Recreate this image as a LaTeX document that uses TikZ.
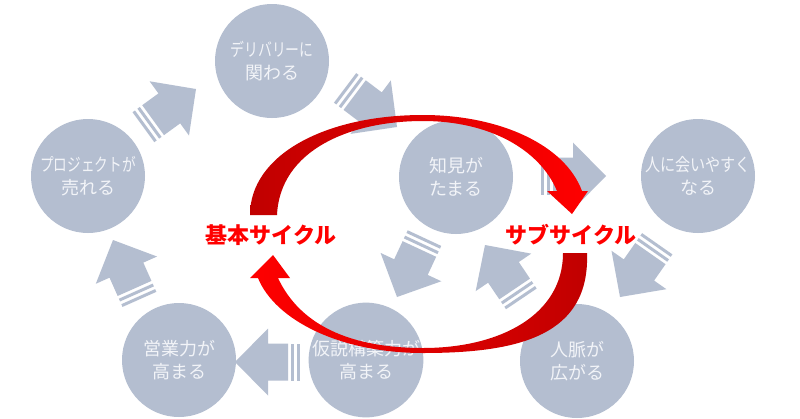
\documentclass[tikz,border=0pt]{standalone}
\usepackage{fontspec}
\usepackage{graphicx}
\newfontfamily\jp{Noto Sans CJK JP}
\definecolor{circ}{RGB}{180,190,208}
\definecolor{ctext}{RGB}{242,244,248}
\definecolor{dred}{RGB}{192,0,0}
\definecolor{bred}{RGB}{255,0,0}
\tikzset{
  bubble/.style={circle, fill=circ, minimum size=114pt, inner sep=0pt, text=ctext,
    align=center, font=\jp\fontsize{18}{23}\selectfont},
  cyclelabel/.style={text=bred, font=\jp\bfseries\fontsize{22}{26}\selectfont, inner sep=0pt},
  blockarrow/.style={fill=circ},
  upperarc/.style={left color=dred, right color=bred},
  lowerarc/.style={left color=bred, right color=dred},
}
\newcommand{\sarrow}[3]{%
  \begin{scope}[shift={(#1,#2)}, rotate=#3]
    \fill[blockarrow] (0,0) -- (-33,33.5) -- (-33,18.5) -- (-53,18.5) -- (-53,-18.5)
      -- (-33,-18.5) -- (-33,-33.5) -- cycle;
    \fill[blockarrow] (-56,18.5) rectangle (-59,-18.5);
    \fill[blockarrow] (-62,18.5) rectangle (-65,-18.5);
  \end{scope}}
\begin{document}
\begin{tikzpicture}[x=1pt,y=-1pt]
\useasboundingbox (0,0) rectangle (800,418);
\fill[white] (0,0) rectangle (800,418);

% circles
\node[bubble] (deli) at (272,61) {\scalebox{0.77}[1]{デリバリーに}\\関わる};
\node[bubble] (proj) at (88,176) {\scalebox{0.76}[1]{プロジェクトが}\\売れる};
\node[bubble] (chik) at (456,177) {知見が\\たまる};
\node[bubble] (hito) at (698,176) {\scalebox{0.84}[1]{人に会いやすく}\\なる};
\node[bubble] (eigy) at (179,360) {営業力が\\高まる};
\node[bubble] (kase) at (366,360) {仮説構築力が\\高まる};
\node[bubble] (jinm) at (577,361) {人脈が\\広がる};

% striped block arrows
\sarrow{196}{89}{36}
\sarrow{397}{127}{-37}
\sarrow{606}{176}{0}
\sarrow{620}{297}{-125}
\sarrow{485}{245}{124}
\sarrow{397}{297}{-115}
\sarrow{235}{362}{180}
\sarrow{113}{240}{114}

% red cycle arrows
\shade[upperarc] (250,215) .. controls (250,155) and (325,115) .. (423,115)
  .. controls (500,115) and (565,145) .. (582,191)
  -- (588,191) -- (572,214) -- (547,191) -- (557,191)
  .. controls (540,150) and (490,121) .. (423,121)
  .. controls (350,121) and (280,150) .. (277,215) -- cycle;
\shade[lowerarc] (587,253) .. controls (590,335) and (520,353) .. (423,353)
  .. controls (340,353) and (275,320) .. (258,278)
  -- (250,278) -- (273,255) -- (290,278) -- (278,278)
  .. controls (300,325) and (350,348) .. (423,348)
  .. controls (500,348) and (563,315) .. (563,253) -- cycle;

\node[cyclelabel] (kihon) at (271,235) {基本サイクル};
\node[cyclelabel] (sub) at (571,235) {サブサイクル};
\end{tikzpicture}
\end{document}
